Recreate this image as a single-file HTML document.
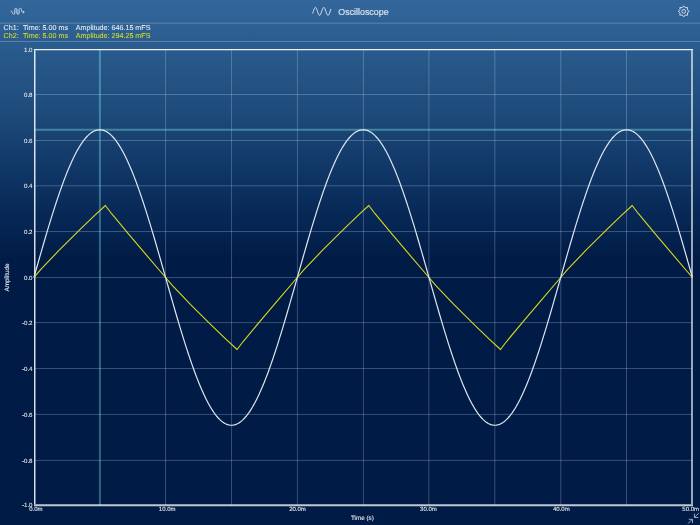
<!DOCTYPE html>
<html><head><meta charset="utf-8"><style>
html,body{margin:0;padding:0;}
body{width:700px;height:525px;overflow:hidden;position:relative;
background:linear-gradient(to bottom,rgb(51,103,155) 0px,rgb(30,76,124) 108px,rgb(18,58,106) 160px,rgb(7,40,86) 215px,rgb(0,27,69) 262px,rgb(0,27,69) 525px);
font-family:"Liberation Sans",sans-serif;}
svg{position:absolute;left:0;top:0;will-change:transform;}
</style></head><body>
<svg width="700" height="525" viewBox="0 0 700 525" font-family="Liberation Sans, sans-serif">
<line x1="0" y1="23.2" x2="700" y2="23.2" stroke="rgb(92,132,172)" stroke-width="1"/>
<line x1="0" y1="41.5" x2="700" y2="41.5" stroke="rgb(90,128,168)" stroke-width="1"/>
<text x="338.3" y="14.8" font-size="8.9" fill="#dde6ef" stroke="#dde6ef" stroke-width="0.15">Oscilloscope</text>
<polyline points="312.70,13.14 313.00,12.29 313.30,11.39 313.61,10.50 313.91,9.65 314.21,8.89 314.51,8.25 314.81,7.78 315.11,7.49 315.41,7.40 315.72,7.51 316.02,7.82 316.32,8.31 316.62,8.96 316.92,9.73 317.23,10.58 317.53,11.48 317.83,12.37 318.13,13.22 318.43,13.97 318.73,14.59 319.03,15.05 319.34,15.32 319.64,15.40 319.94,15.27 320.24,14.95 320.54,14.44 320.85,13.79 321.15,13.01 321.45,12.15 321.75,11.25 322.05,10.36 322.35,9.52 322.65,8.78 322.96,8.17 323.26,7.72 323.56,7.46 323.86,7.40 324.16,7.55 324.47,7.88 324.77,8.40 325.07,9.07 325.37,9.86 325.67,10.72 325.97,11.62 326.27,12.51 326.58,13.34 326.88,14.07 327.18,14.67 327.48,15.10 327.78,15.35 328.09,15.39 328.39,15.23 328.69,14.88 328.99,14.35 329.29,13.67 329.59,12.88 329.89,12.01 330.20,11.11 330.50,10.23 330.80,9.40" fill="none" stroke="#dfe7f0" stroke-width="1" stroke-linejoin="round" stroke-linecap="round"/>
<polygon points="683.75,5.85 685.26,7.70 687.64,7.46 687.40,9.84 689.25,11.35 687.40,12.86 687.64,15.24 685.26,15.00 683.75,16.85 682.24,15.00 679.86,15.24 680.10,12.86 678.25,11.35 680.10,9.84 679.86,7.46 682.24,7.70" fill="none" stroke="#dfe7f0" stroke-width="0.9" stroke-linejoin="miter"/>
<circle cx="683.75" cy="11.35" r="1.85" fill="none" stroke="#dfe7f0" stroke-width="0.9"/>
<rect x="14.9" y="9.2" width="4.1" height="4.3" fill="#a9c0da" opacity="0.35"/>
<path d="M10.9,10.9 Q12.4,11.2 12.6,13.3 Q12.9,14.3 13.7,14.3 Q14.7,14.3 14.7,12.8 L14.7,9.6 Q14.7,8.3 15.8,8.3 Q16.9,8.3 16.9,9.6 L16.9,13 Q16.9,14.3 18,14.3 Q19.2,14.3 19.2,13 L19.2,9.6 Q19.2,8.3 20.3,8.3 Q21.5,8.3 21.5,9.6 L21.5,11 Q21.8,12.1 23,12.1" fill="none" stroke="#bccfe3" stroke-width="0.95" stroke-linecap="round"/>
<path d="M22.9,10.4 L24.8,12.1 L22.9,13.7 Z" fill="#bccfe3"/>
<g font-size="7.15" text-rendering="geometricPrecision">
<text y="29.8" fill="#e6ecf2" stroke="#e6ecf2" stroke-width="0.08"><tspan x="3.6">Ch1:</tspan><tspan x="23.0">Time: 5.00 ms</tspan><tspan x="75.8">Amplitude: 646.15 mFS</tspan></text>
<text y="38.0" fill="#d6dc2a" stroke="#d6dc2a" stroke-width="0.08"><tspan x="3.6">Ch2:</tspan><tspan x="23.0">Time: 5.00 ms</tspan><tspan x="75.8">Amplitude: 294.25 mFS</tspan></text>
</g>
<g stroke="rgb(200,220,255)" stroke-opacity="0.27" stroke-width="1">
<line x1="165.57" y1="49.5" x2="165.57" y2="505"/><line x1="231.57" y1="49.5" x2="231.57" y2="505"/><line x1="297.40" y1="49.5" x2="297.40" y2="505"/><line x1="363.40" y1="49.5" x2="363.40" y2="505"/><line x1="428.90" y1="49.5" x2="428.90" y2="505"/><line x1="494.80" y1="49.5" x2="494.80" y2="505"/><line x1="560.80" y1="49.5" x2="560.80" y2="505"/><line x1="626.50" y1="49.5" x2="626.50" y2="505"/><line x1="34.5" y1="94.50" x2="692" y2="94.50"/><line x1="34.5" y1="140.50" x2="692" y2="140.50"/><line x1="34.5" y1="185.80" x2="692" y2="185.80"/><line x1="34.5" y1="231.50" x2="692" y2="231.50"/><line x1="34.5" y1="277.50" x2="692" y2="277.50"/><line x1="34.5" y1="322.60" x2="692" y2="322.60"/><line x1="34.5" y1="368.50" x2="692" y2="368.50"/><line x1="34.5" y1="414.40" x2="692" y2="414.40"/><line x1="34.5" y1="460.40" x2="692" y2="460.40"/>
</g>
<line x1="99.9" y1="49.5" x2="99.9" y2="505" stroke="rgb(140,255,255)" stroke-opacity="0.33" stroke-width="2"/>
<line x1="34.5" y1="129.7" x2="692" y2="129.7" stroke="rgb(140,255,255)" stroke-opacity="0.34" stroke-width="2"/>
<line x1="34" y1="49.55" x2="693" y2="49.55" stroke="#fff" stroke-opacity="0.92" stroke-width="1.3"/>
<line x1="34.75" y1="50.2" x2="34.75" y2="504.25" stroke="#fff" stroke-opacity="0.85" stroke-width="1.5"/>
<line x1="34" y1="505.2" x2="693" y2="505.2" stroke="#fff" stroke-opacity="0.76" stroke-width="1.9"/>
<line x1="692" y1="50.2" x2="692" y2="504.25" stroke="#fff" stroke-opacity="0.64" stroke-width="1.9"/>
<polyline points="33.90,277.50 41.05,269.22 58.93,250.46 80.38,229.12 94.69,215.45 105.41,205.48 111.43,213.48 129.49,235.09 147.54,256.39 159.58,270.50 165.60,277.50 172.75,285.78 190.63,304.54 212.08,325.88 226.39,339.55 237.11,349.52 243.13,341.52 261.19,319.91 279.24,298.61 291.28,284.50 297.30,277.50 304.45,269.22 322.33,250.46 343.78,229.12 358.09,215.45 368.81,205.48 374.83,213.48 392.89,235.09 410.94,256.39 422.98,270.50 429.00,277.50 436.15,285.78 454.03,304.54 475.48,325.88 489.79,339.55 500.51,349.52 506.53,341.52 524.59,319.91 542.64,298.61 554.68,284.50 560.70,277.50 567.85,269.22 585.73,250.46 607.18,229.12 621.49,215.45 632.21,205.48 638.23,213.48 656.29,235.09 674.34,256.39 686.38,270.50 692.40,277.50" fill="none" stroke="#d4d61e" stroke-width="1.15" stroke-linejoin="round"/>
<polyline points="33.90,277.50 35.22,272.86 36.53,268.22 37.85,263.60 39.17,258.98 40.48,254.39 41.80,249.82 43.12,245.27 44.44,240.76 45.75,236.28 47.07,231.84 48.39,227.45 49.70,223.11 51.02,218.82 52.34,214.59 53.66,210.43 54.97,206.32 56.29,202.29 57.61,198.33 58.92,194.46 60.24,190.66 61.56,186.95 62.87,183.32 64.19,179.80 65.51,176.36 66.82,173.03 68.14,169.80 69.46,166.68 70.78,163.66 72.09,160.76 73.41,157.97 74.73,155.30 76.04,152.76 77.36,150.33 78.68,148.03 80.00,145.86 81.31,143.82 82.63,141.91 83.95,140.13 85.26,138.49 86.58,136.99 87.90,135.62 89.21,134.40 90.53,133.31 91.85,132.37 93.16,131.57 94.48,130.92 95.80,130.41 97.12,130.05 98.43,129.83 99.75,129.76 101.07,129.83 102.38,130.05 103.70,130.41 105.02,130.92 106.34,131.57 107.65,132.37 108.97,133.31 110.29,134.40 111.60,135.62 112.92,136.99 114.24,138.49 115.55,140.13 116.87,141.91 118.19,143.82 119.50,145.86 120.82,148.03 122.14,150.33 123.46,152.76 124.77,155.30 126.09,157.97 127.41,160.76 128.72,163.66 130.04,166.68 131.36,169.80 132.68,173.03 133.99,176.36 135.31,179.80 136.63,183.32 137.94,186.95 139.26,190.66 140.58,194.46 141.89,198.33 143.21,202.29 144.53,206.32 145.84,210.43 147.16,214.59 148.48,218.82 149.80,223.11 151.11,227.45 152.43,231.84 153.75,236.28 155.06,240.76 156.38,245.27 157.70,249.82 159.01,254.39 160.33,258.98 161.65,263.60 162.97,268.22 164.28,272.86 165.60,277.50 166.92,282.14 168.23,286.78 169.55,291.40 170.87,296.02 172.19,300.61 173.50,305.18 174.82,309.73 176.14,314.24 177.45,318.72 178.77,323.16 180.09,327.55 181.40,331.89 182.72,336.18 184.04,340.41 185.36,344.57 186.67,348.68 187.99,352.71 189.31,356.67 190.62,360.54 191.94,364.34 193.26,368.05 194.57,371.68 195.89,375.20 197.21,378.64 198.53,381.97 199.84,385.20 201.16,388.32 202.48,391.34 203.79,394.24 205.11,397.03 206.43,399.70 207.74,402.24 209.06,404.67 210.38,406.97 211.69,409.14 213.01,411.18 214.33,413.09 215.65,414.87 216.96,416.51 218.28,418.01 219.60,419.38 220.91,420.60 222.23,421.69 223.55,422.63 224.87,423.43 226.18,424.08 227.50,424.59 228.82,424.95 230.13,425.17 231.45,425.24 232.77,425.17 234.08,424.95 235.40,424.59 236.72,424.08 238.03,423.43 239.35,422.63 240.67,421.69 241.99,420.60 243.30,419.38 244.62,418.01 245.94,416.51 247.25,414.87 248.57,413.09 249.89,411.18 251.21,409.14 252.52,406.97 253.84,404.67 255.16,402.24 256.47,399.70 257.79,397.03 259.11,394.24 260.42,391.34 261.74,388.32 263.06,385.20 264.38,381.97 265.69,378.64 267.01,375.20 268.33,371.68 269.64,368.05 270.96,364.34 272.28,360.54 273.59,356.67 274.91,352.71 276.23,348.68 277.55,344.57 278.86,340.41 280.18,336.18 281.50,331.89 282.81,327.55 284.13,323.16 285.45,318.72 286.76,314.24 288.08,309.73 289.40,305.18 290.71,300.61 292.03,296.02 293.35,291.40 294.67,286.78 295.98,282.14 297.30,277.50 298.62,272.86 299.93,268.22 301.25,263.60 302.57,258.98 303.88,254.39 305.20,249.82 306.52,245.27 307.84,240.76 309.15,236.28 310.47,231.84 311.79,227.45 313.10,223.11 314.42,218.82 315.74,214.59 317.05,210.43 318.37,206.32 319.69,202.29 321.01,198.33 322.32,194.46 323.64,190.66 324.96,186.95 326.27,183.32 327.59,179.80 328.91,176.36 330.22,173.03 331.54,169.80 332.86,166.68 334.18,163.66 335.49,160.76 336.81,157.97 338.13,155.30 339.44,152.76 340.76,150.33 342.08,148.03 343.39,145.86 344.71,143.82 346.03,141.91 347.35,140.13 348.66,138.49 349.98,136.99 351.30,135.62 352.61,134.40 353.93,133.31 355.25,132.37 356.56,131.57 357.88,130.92 359.20,130.41 360.52,130.05 361.83,129.83 363.15,129.76 364.47,129.83 365.78,130.05 367.10,130.41 368.42,130.92 369.73,131.57 371.05,132.37 372.37,133.31 373.69,134.40 375.00,135.62 376.32,136.99 377.64,138.49 378.95,140.13 380.27,141.91 381.59,143.82 382.90,145.86 384.22,148.03 385.54,150.33 386.86,152.76 388.17,155.30 389.49,157.97 390.81,160.76 392.12,163.66 393.44,166.68 394.76,169.80 396.07,173.03 397.39,176.36 398.71,179.80 400.03,183.32 401.34,186.95 402.66,190.66 403.98,194.46 405.29,198.33 406.61,202.29 407.93,206.32 409.24,210.43 410.56,214.59 411.88,218.82 413.20,223.11 414.51,227.45 415.83,231.84 417.15,236.28 418.46,240.76 419.78,245.27 421.10,249.82 422.41,254.39 423.73,258.98 425.05,263.60 426.37,268.22 427.68,272.86 429.00,277.50 430.32,282.14 431.63,286.78 432.95,291.40 434.27,296.02 435.58,300.61 436.90,305.18 438.22,309.73 439.54,314.24 440.85,318.72 442.17,323.16 443.49,327.55 444.80,331.89 446.12,336.18 447.44,340.41 448.75,344.57 450.07,348.68 451.39,352.71 452.71,356.67 454.02,360.54 455.34,364.34 456.66,368.05 457.97,371.68 459.29,375.20 460.61,378.64 461.92,381.97 463.24,385.20 464.56,388.32 465.88,391.34 467.19,394.24 468.51,397.03 469.83,399.70 471.14,402.24 472.46,404.67 473.78,406.97 475.09,409.14 476.41,411.18 477.73,413.09 479.05,414.87 480.36,416.51 481.68,418.01 483.00,419.38 484.31,420.60 485.63,421.69 486.95,422.63 488.26,423.43 489.58,424.08 490.90,424.59 492.22,424.95 493.53,425.17 494.85,425.24 496.17,425.17 497.48,424.95 498.80,424.59 500.12,424.08 501.44,423.43 502.75,422.63 504.07,421.69 505.39,420.60 506.70,419.38 508.02,418.01 509.34,416.51 510.65,414.87 511.97,413.09 513.29,411.18 514.61,409.14 515.92,406.97 517.24,404.67 518.56,402.24 519.87,399.70 521.19,397.03 522.51,394.24 523.82,391.34 525.14,388.32 526.46,385.20 527.77,381.97 529.09,378.64 530.41,375.20 531.73,371.68 533.04,368.05 534.36,364.34 535.68,360.54 536.99,356.67 538.31,352.71 539.63,348.68 540.95,344.57 542.26,340.41 543.58,336.18 544.90,331.89 546.21,327.55 547.53,323.16 548.85,318.72 550.16,314.24 551.48,309.73 552.80,305.18 554.12,300.61 555.43,296.02 556.75,291.40 558.07,286.78 559.38,282.14 560.70,277.50 562.02,272.86 563.33,268.22 564.65,263.60 565.97,258.98 567.28,254.39 568.60,249.82 569.92,245.27 571.24,240.76 572.55,236.28 573.87,231.84 575.19,227.45 576.50,223.11 577.82,218.82 579.14,214.59 580.45,210.43 581.77,206.32 583.09,202.29 584.41,198.33 585.72,194.46 587.04,190.66 588.36,186.95 589.67,183.32 590.99,179.80 592.31,176.36 593.62,173.03 594.94,169.80 596.26,166.68 597.58,163.66 598.89,160.76 600.21,157.97 601.53,155.30 602.84,152.76 604.16,150.33 605.48,148.03 606.79,145.86 608.11,143.82 609.43,141.91 610.75,140.13 612.06,138.49 613.38,136.99 614.70,135.62 616.01,134.40 617.33,133.31 618.65,132.37 619.96,131.57 621.28,130.92 622.60,130.41 623.92,130.05 625.23,129.83 626.55,129.76 627.87,129.83 629.18,130.05 630.50,130.41 631.82,130.92 633.13,131.57 634.45,132.37 635.77,133.31 637.09,134.40 638.40,135.62 639.72,136.99 641.04,138.49 642.35,140.13 643.67,141.91 644.99,143.82 646.30,145.86 647.62,148.03 648.94,150.33 650.26,152.76 651.57,155.30 652.89,157.97 654.21,160.76 655.52,163.66 656.84,166.68 658.16,169.80 659.48,173.03 660.79,176.36 662.11,179.80 663.43,183.32 664.74,186.95 666.06,190.66 667.38,194.46 668.69,198.33 670.01,202.29 671.33,206.32 672.64,210.43 673.96,214.59 675.28,218.82 676.60,223.11 677.91,227.45 679.23,231.84 680.55,236.28 681.86,240.76 683.18,245.27 684.50,249.82 685.81,254.39 687.13,258.98 688.45,263.60 689.77,268.22 691.08,272.86 692.40,277.50" fill="none" stroke="#dfe6ef" stroke-width="1.2" stroke-linejoin="round"/>
<g font-size="6.3" fill="#e3e9ef" stroke="#e3e9ef" stroke-width="0.1" text-rendering="geometricPrecision">
<text x="32.5" y="51.60" text-anchor="end" font-size="6.1">1.0</text><text x="32.5" y="96.60" text-anchor="end" font-size="6.1">0.8</text><text x="32.5" y="142.60" text-anchor="end" font-size="6.1">0.6</text><text x="32.5" y="187.90" text-anchor="end" font-size="6.1">0.4</text><text x="32.5" y="233.60" text-anchor="end" font-size="6.1">0.2</text><text x="32.5" y="279.60" text-anchor="end" font-size="6.1">0.0</text><text x="32.5" y="324.70" text-anchor="end" font-size="6.1">-0.2</text><text x="32.5" y="370.60" text-anchor="end" font-size="6.1">-0.4</text><text x="32.5" y="416.50" text-anchor="end" font-size="6.1">-0.6</text><text x="32.5" y="462.50" text-anchor="end" font-size="6.1">-0.8</text><text x="32.5" y="507.30" text-anchor="end" font-size="6.1">-1.0</text>
<text x="35.90" y="511.4" text-anchor="middle" font-size="6.0">0.0m</text><text x="167.20" y="511.4" text-anchor="middle" font-size="6.0">10.0m</text><text x="297.50" y="511.4" text-anchor="middle" font-size="6.0">20.0m</text><text x="428.40" y="511.4" text-anchor="middle" font-size="6.0">30.0m</text><text x="561.30" y="511.4" text-anchor="middle" font-size="6.0">40.0m</text><text x="699" y="511.4" text-anchor="end" font-size="6.0">50.0m</text>
<text x="362.4" y="520" text-anchor="middle">Time (s)</text>
<text transform="translate(9.3,277.5) rotate(-90)" text-anchor="middle">Amplitude</text>
</g>
<g fill="none" stroke="#aab4c8" stroke-width="0.9" stroke-linecap="round" stroke-linejoin="miter">
<path d="M698.6,513.3 L694.6,517.3 M694.4,514 L694.4,517.5 L698,517.5"/>
<path d="M688.3,523.3 L692.2,519.4 M689.1,519.3 L692.5,519.3 L692.5,522.6"/>
</g>
</svg>
</body></html>
